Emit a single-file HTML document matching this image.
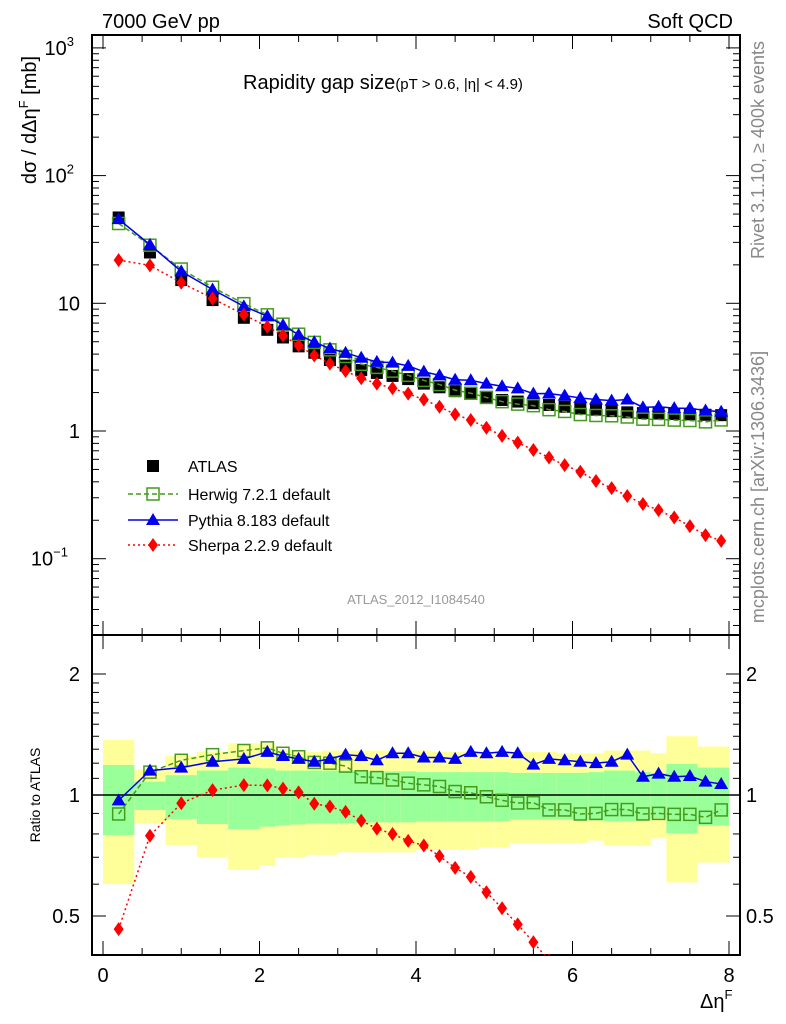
<!DOCTYPE html>
<html><head><meta charset="utf-8"><style>
html,body{margin:0;padding:0;background:#fff;overflow:hidden;width:786px;height:1024px;}
svg{display:block;}
svg text{font-family:"Liberation Sans",sans-serif;}
</style></head><body>
<svg id="c" width="786" height="1024" xmlns="http://www.w3.org/2000/svg">
<text x="102" y="28" font-size="20">7000 GeV pp</text>
<text x="733" y="28" font-size="20" text-anchor="end">Soft QCD</text>
<text x="243" y="89" font-size="20">Rapidity gap size<tspan font-size="15">(pT &gt; 0.6, |η| &lt; 4.9)</tspan></text>
<text transform="translate(764,150) rotate(-90)" font-size="18" fill="#888" text-anchor="middle">Rivet 3.1.10, ≥ 400k events</text>
<text transform="translate(764,487) rotate(-90)" font-size="18" fill="#888" text-anchor="middle">mcplots.cern.ch [arXiv:1306.3436]</text>
<text transform="translate(36,120) rotate(-90)" font-size="20" text-anchor="middle">dσ / dΔη<tspan dy="-8" font-size="13">F</tspan><tspan dy="8"> [mb]</tspan></text>
<text transform="translate(40,795) rotate(-90)" font-size="14" text-anchor="middle">Ratio to ATLAS</text>
<text x="700" y="1008" font-size="20">Δη<tspan dy="-9" font-size="13">F</tspan></text>
<text x="416" y="604" font-size="13" fill="#999" text-anchor="middle">ATLAS_2012_I1084540</text>
<g id="g"></g>
</svg>
<script>
const centers=[0.2,0.6,1.0,1.4,1.8,2.1,2.3,2.5,2.7,2.9,3.1,3.3,3.5,3.7,3.9,4.1,4.3,4.5,4.7,4.9,5.1,5.3,5.5,5.7,5.9,6.1,6.3,6.5,6.7,6.9,7.1,7.3,7.5,7.7,7.9];
const atlas=[47,25,15.2,10.6,7.7,6.2,5.4,4.6,4.1,3.6,3.25,3.0,2.85,2.7,2.55,2.35,2.2,2.05,1.95,1.85,1.75,1.7,1.65,1.6,1.55,1.5,1.47,1.43,1.4,1.38,1.37,1.36,1.35,1.34,1.33];
const herwigRatio=[0.897,1.14,1.22,1.26,1.29,1.31,1.27,1.245,1.205,1.2,1.18,1.11,1.105,1.09,1.07,1.06,1.05,1.02,1.013,0.99,0.97,0.955,0.957,0.918,0.918,0.897,0.9,0.92,0.92,0.897,0.9,0.895,0.895,0.88,0.918];
const pythiaRatio=[0.97,1.15,1.17,1.21,1.23,1.28,1.25,1.23,1.21,1.23,1.26,1.25,1.22,1.27,1.27,1.24,1.24,1.23,1.28,1.27,1.28,1.27,1.19,1.23,1.22,1.21,1.20,1.21,1.26,1.11,1.13,1.11,1.115,1.08,1.065];
const sherpa=[21.8,19.8,14.5,10.9,8.15,6.55,5.6,4.67,3.9,3.37,2.95,2.59,2.35,2.16,1.96,1.76,1.55,1.35,1.22,1.06,0.915,0.81,0.71,0.62,0.54,0.48,0.406,0.357,0.31,0.268,0.24,0.21,0.18,0.153,0.138];
const yellowHi=[1.37,1.158,1.25,1.282,1.345,1.345,1.30,1.28,1.28,1.29,1.29,1.29,1.29,1.29,1.29,1.29,1.28,1.28,1.28,1.28,1.28,1.28,1.28,1.28,1.27,1.27,1.27,1.29,1.29,1.29,1.27,1.40,1.40,1.32,1.32];
const yellowLo=[0.60,0.85,0.751,0.70,0.651,0.667,0.70,0.70,0.71,0.71,0.72,0.72,0.72,0.72,0.72,0.73,0.73,0.73,0.73,0.74,0.74,0.76,0.76,0.76,0.76,0.76,0.77,0.75,0.75,0.747,0.78,0.606,0.606,0.679,0.679];
const greenHi=[1.188,1.08,1.12,1.15,1.17,1.165,1.15,1.15,1.15,1.15,1.15,1.15,1.145,1.145,1.145,1.14,1.14,1.14,1.14,1.14,1.14,1.135,1.135,1.135,1.135,1.135,1.14,1.15,1.15,1.14,1.132,1.194,1.194,1.17,1.17];
const greenLo=[0.795,0.918,0.872,0.847,0.823,0.834,0.84,0.845,0.85,0.85,0.85,0.85,0.855,0.855,0.855,0.86,0.86,0.86,0.86,0.86,0.86,0.87,0.87,0.87,0.87,0.87,0.865,0.86,0.86,0.865,0.875,0.803,0.803,0.839,0.839];
const xTicks=[0,2,4,6,8];
const NS="http://www.w3.org/2000/svg";
const g=document.getElementById('g');
const L=92,R=740,T=35,M=635,B=955;
const X=v=>103+v*78.25;
const Y=v=>431-Math.log10(v)*127.7;
const YR=r=>795-Math.log2(r)*121;
function mk(tag,attrs,name){const e=document.createElementNS(NS,tag);for(const k in attrs)e.setAttribute(k,attrs[k]);


g.appendChild(e);return e;}
function halfw(c){return c<2?0.2:0.1;}
centers.forEach((c,i)=>{const x0=X(c-halfw(c)),x1=X(c+halfw(c));
const y0=Math.max(M,YR(yellowHi[i])),y1=Math.min(B,YR(yellowLo[i]));
mk('rect',{x:x0,y:y0,width:x1-x0,height:y1-y0,fill:'#ffff99'},'yellow-band');
mk('rect',{x:x0,y:YR(greenHi[i]),width:x1-x0,height:YR(greenLo[i])-YR(greenHi[i]),fill:'#99ff99'},'green-band');});
mk('line',{x1:L,x2:R,y1:YR(1),y2:YR(1),stroke:'#000','stroke-width':1.5},'ratio-unity-line');
mk('rect',{x:L,y:T,width:R-L,height:M-T,fill:'none',stroke:'#000','stroke-width':2},'main-frame');
mk('rect',{x:L,y:M,width:R-L,height:B-M,fill:'none',stroke:'#000','stroke-width':2},'ratio-frame');
for(let v=0;v<=8.001;v+=0.5){const maj=Math.abs(v-Math.round(v/2)*2)<1e-6;const len=maj?14:7;
[T,M].forEach(yy=>{mk('line',{x1:X(v),x2:X(v),y1:yy,y2:yy+len,stroke:'#000'},'x-tick');});
[M,B].forEach(yy=>{mk('line',{x1:X(v),x2:X(v),y1:yy,y2:yy-len,stroke:'#000'},'x-tick');});}
xTicks.forEach(v=>{const t=mk('text',{x:X(v),y:982,'font-size':20,'text-anchor':'middle'},'x-tick-label');t.textContent=v;});
for(let e=-2;e<=3;e++)for(let m=1;m<=9;m++){const v=m*Math.pow(10,e);const y=Y(v);if(y<T||y>M)continue;const len=m==1?14:7;
mk('line',{x1:L,x2:L+len,y1:y,y2:y,stroke:'#000'},'y-tick');mk('line',{x1:R,x2:R-len,y1:y,y2:y,stroke:'#000'},'y-tick');}
[[3,'10','3'],[2,'10','2'],[1,'10',''],[0,'1',''],[-1,'10','−1']].forEach(a=>{const t=mk('text',{x:a[2]?80-(a[2].length>1?12:6):80,y:Y(Math.pow(10,a[0]))+7,'font-size':20,'text-anchor':'end'},'y-tick-label');t.textContent=a[1];
if(a[2]){const s=document.createElementNS(NS,'tspan');s.setAttribute('dy','-9');s.setAttribute('font-size','13');s.textContent=a[2];t.appendChild(s);}});
[0.4,0.5,0.6,0.7,0.8,0.9,1,1.1,1.2,1.3,1.4,1.5,1.6,1.7,1.8,1.9,2].forEach(r=>{const y=YR(r);if(y<M||y>B)return;const maj=(r==0.5||r==1||r==2);const len=maj?14:7;
mk('line',{x1:L,x2:L+len,y1:y,y2:y,stroke:'#000'},'ratio-tick');mk('line',{x1:R,x2:R-len,y1:y,y2:y,stroke:'#000'},'ratio-tick');
if(maj){let t=mk('text',{x:80,y:y+7,'font-size':20,'text-anchor':'end'},'ratio-tick-label');t.textContent=r;
t=mk('text',{x:746,y:y+7,'font-size':20},'ratio-tick-label-right');t.textContent=r;}});
const defs=document.createElementNS(NS,'defs');defs.innerHTML='<clipPath id="cm"><rect x="92" y="35" width="648" height="600"/></clipPath><clipPath id="cr"><rect x="92" y="635" width="648" height="320"/></clipPath>';g.appendChild(defs);
const gm=mk('g',{'clip-path':'url(#cm)'},'main-series');const gr=mk('g',{'clip-path':'url(#cr)'},'ratio-series');
function line(par,pts,col,dash,name){const e=document.createElementNS(NS,'polyline');e.setAttribute('points',pts.map(p=>p.join(',')).join(' '));e.setAttribute('fill','none');e.setAttribute('stroke',col);e.setAttribute('stroke-width',1.5);if(dash)e.setAttribute('stroke-dasharray',dash);


par.appendChild(e);}
function sq(par,x,y,fill,name){const e=document.createElementNS(NS,'rect');e.setAttribute('x',x-6);e.setAttribute('y',y-6);e.setAttribute('width',12);e.setAttribute('height',12);
if(fill){e.setAttribute('fill','#000');}else{e.setAttribute('fill','none');e.setAttribute('stroke','#449c1c');e.setAttribute('stroke-width',1.5);}


par.appendChild(e);}
function tri(par,x,y,name){const e=document.createElementNS(NS,'polygon');e.setAttribute('points',`${x},${y-7} ${x-7},${y+5} ${x+7},${y+5}`);e.setAttribute('fill','#0000ee');


par.appendChild(e);}
function dia(par,x,y,name){const e=document.createElementNS(NS,'polygon');e.setAttribute('points',`${x},${y-7} ${x+5},${y} ${x},${y+7} ${x-5},${y}`);e.setAttribute('fill','#ff0000');


par.appendChild(e);}
centers.forEach((c,i)=>sq(gm,X(c),Y(atlas[i]),true,'atlas-point'));
line(gm,centers.map((c,i)=>[X(c),Y(atlas[i]*herwigRatio[i])]),'#449c1c','5,3','herwig-line');
centers.forEach((c,i)=>sq(gm,X(c),Y(atlas[i]*herwigRatio[i]),false,'herwig-point'));
line(gm,centers.map((c,i)=>[X(c),Y(atlas[i]*pythiaRatio[i])]),'#0000ee','','pythia-line');
centers.forEach((c,i)=>tri(gm,X(c),Y(atlas[i]*pythiaRatio[i]),'pythia-point'));
line(gm,centers.map((c,i)=>[X(c),Y(sherpa[i])]),'#ff0000','2,3','sherpa-line');
centers.forEach((c,i)=>dia(gm,X(c),Y(sherpa[i]),'sherpa-point'));
line(gr,centers.map((c,i)=>[X(c),YR(herwigRatio[i])]),'#449c1c','5,3','herwig-ratio-line');
centers.forEach((c,i)=>sq(gr,X(c),YR(herwigRatio[i]),false,'herwig-ratio-point'));
line(gr,centers.map((c,i)=>[X(c),YR(pythiaRatio[i])]),'#0000ee','','pythia-ratio-line');
centers.forEach((c,i)=>tri(gr,X(c),YR(pythiaRatio[i]),'pythia-ratio-point'));
line(gr,centers.map((c,i)=>[X(c),YR(sherpa[i]/atlas[i])]),'#ff0000','2,3','sherpa-ratio-line');
centers.forEach((c,i)=>dia(gr,X(c),YR(sherpa[i]/atlas[i]),'sherpa-ratio-point'));
const lg=mk('g',{},'legend');
sq(lg,153,466,true,'legend-atlas-marker');
line(lg,[[128,494],[178,494]],'#449c1c','5,3','legend-herwig-line');sq(lg,153,494,false,'legend-herwig-marker');
line(lg,[[128,520],[178,520]],'#0000ee','','legend-pythia-line');tri(lg,153,520,'legend-pythia-marker');
line(lg,[[128,545],[178,545]],'#ff0000','2,3','legend-sherpa-line');dia(lg,153,545,'legend-sherpa-marker');
[['ATLAS',466],['Herwig 7.2.1 default',494],['Pythia 8.183 default',520],['Sherpa 2.2.9 default',545]].forEach(a=>{const t=mk('text',{x:188,y:a[1]+6,'font-size':16},'legend-entry');t.textContent=a[0];});
</script>
</body></html>
